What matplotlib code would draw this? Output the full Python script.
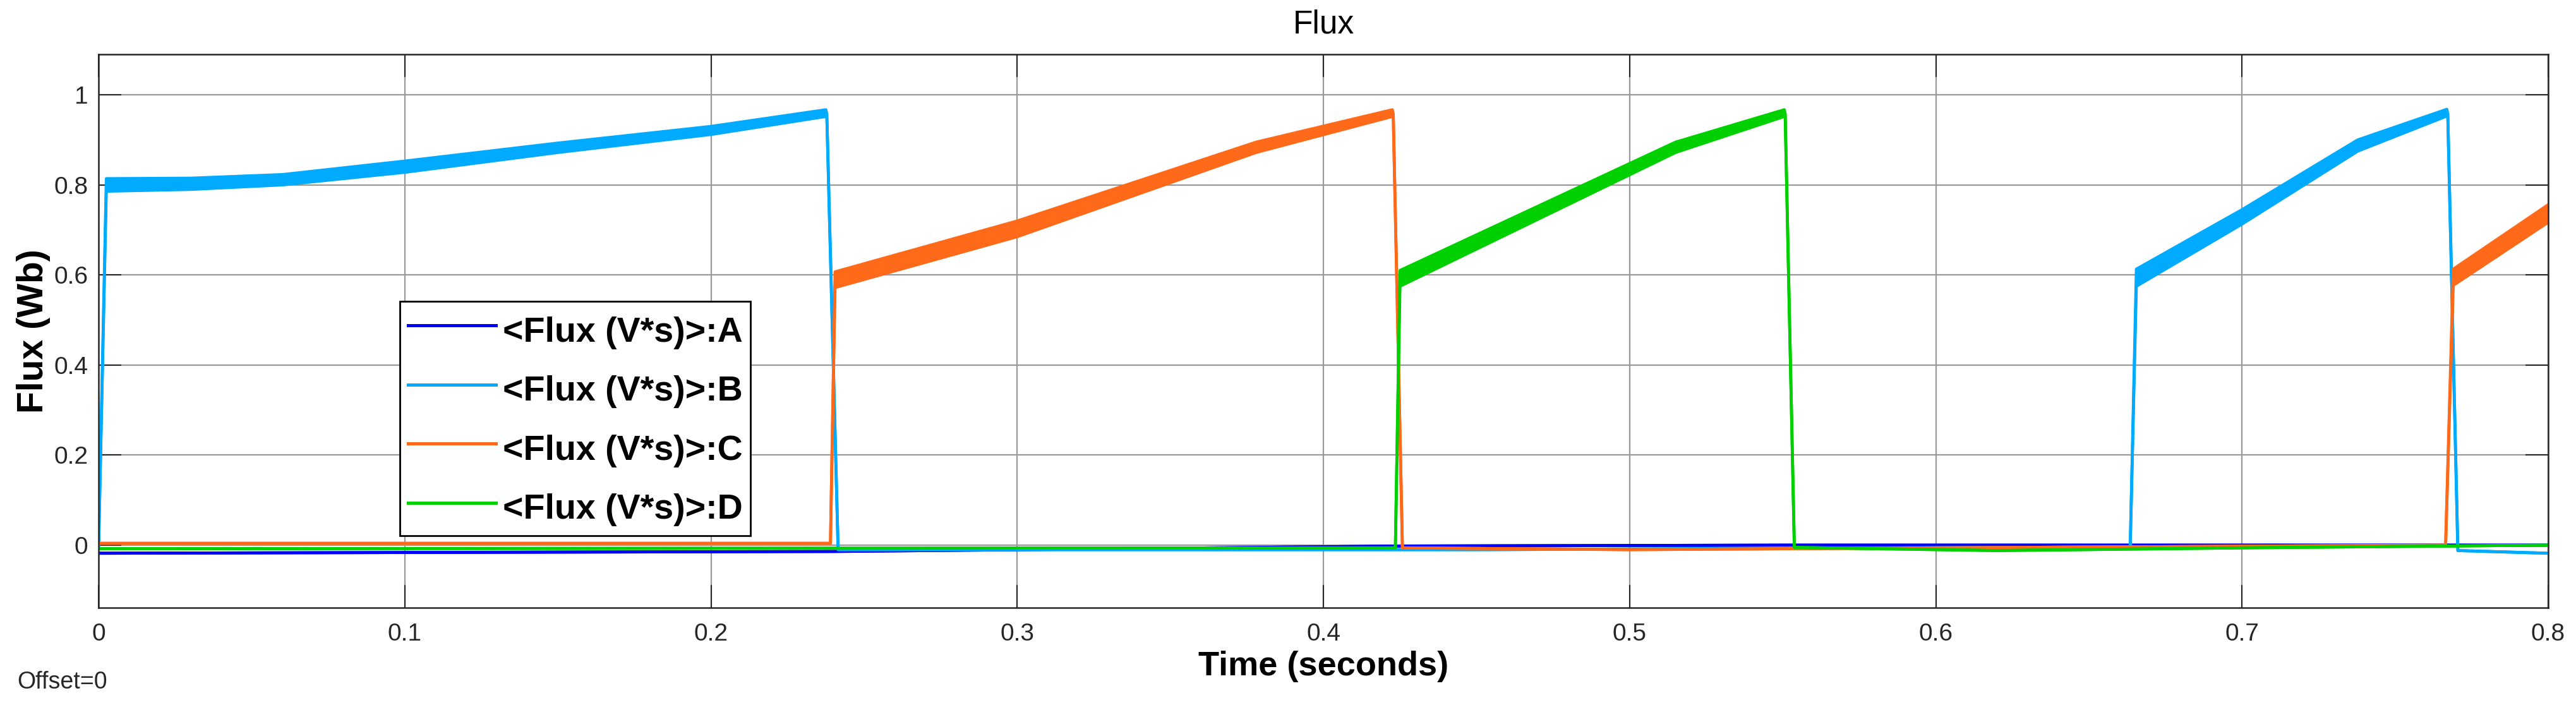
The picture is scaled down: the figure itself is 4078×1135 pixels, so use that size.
import matplotlib
matplotlib.use("Agg")
import matplotlib.pyplot as plt
import numpy as np

'''
Four-phase flux waveforms (A-D) over 0.8 s, Simulink-scope style.
Each phase is stored as break-points with a lower and upper envelope,
the gap between them is the high-frequency ripple band.
'''

plt.rcParams["font.family"] = ["Liberation Sans", "DejaVu Sans"]

# phase A stays near zero
t_a = [0.0, 0.24, 0.4255, 0.55, 0.8]
lo_a = [-0.018, -0.014, -0.002, 0.0, 0.0]
hi_a = lo_a

# phase B: conducts at start and again near 0.665 s
t_b = [0.0, 0.0025, 0.03, 0.06, 0.1, 0.15, 0.2, 0.2375, 0.2378, 0.2415, 0.45, 0.6635,
       0.6655, 0.70, 0.7378, 0.7669, 0.7672, 0.7705, 0.8]
lo_b = [0.0, 0.786, 0.790, 0.800, 0.828, 0.872, 0.912, 0.952, 0.958, -0.010, -0.010,
        -0.004, 0.575, 0.713, 0.875, 0.953, 0.958, -0.012, -0.018]
hi_b = [0.0, 0.814, 0.815, 0.823, 0.853, 0.893, 0.930, 0.967, 0.958, -0.010, -0.010,
        -0.004, 0.613, 0.745, 0.900, 0.968, 0.958, -0.012, -0.018]

# phase C
t_c = [0.0, 0.239, 0.2405, 0.30, 0.378, 0.4225, 0.4228, 0.4258, 0.50, 0.60, 0.7665,
       0.769, 0.8]
lo_c = [0.004, 0.004, 0.572, 0.685, 0.872, 0.952, 0.958, -0.006, -0.010, -0.006, 0.0,
        0.577, 0.717]
hi_c = [0.004, 0.004, 0.607, 0.720, 0.895, 0.967, 0.958, -0.006, -0.010, -0.006, 0.0,
        0.613, 0.756]

# phase D
t_d = [0.0, 0.4235, 0.425, 0.515, 0.5505, 0.5508, 0.5538, 0.62, 0.70, 0.8]
lo_d = [-0.008, -0.006, 0.575, 0.872, 0.952, 0.958, -0.005, -0.012, -0.006, 0.0]
hi_d = [-0.008, -0.006, 0.610, 0.895, 0.967, 0.958, -0.005, -0.012, -0.006, 0.0]

labels = ["<Flux (V*s)>:A", "<Flux (V*s)>:B", "<Flux (V*s)>:C", "<Flux (V*s)>:D"]
colors = ["#0000FF", "#00AAFF", "#FF6A1A", "#00D000"]

x_ticks = [0, 0.1, 0.2, 0.3, 0.4, 0.5, 0.6, 0.7, 0.8]
x_ticklabels = ["0", "0.1", "0.2", "0.3", "0.4", "0.5", "0.6", "0.7", "0.8"]
y_ticks = [0, 0.2, 0.4, 0.6, 0.8, 1.0]
y_ticklabels = ["0", "0.2", "0.4", "0.6", "0.8", "1"]


def main():
    fig = plt.figure(figsize=(40.78, 11.35), dpi=100)
    ax = fig.add_axes([0.0383, 0.1524, 0.9509, 0.7718])

    series = [(t_a, lo_a, hi_a), (t_b, lo_b, hi_b), (t_c, lo_c, hi_c), (t_d, lo_d, hi_d)]
    for (t, lo, hi), lab, col in zip(series, labels, colors):
        ax.fill_between(t, lo, hi, color=col, linewidth=0)
        ax.plot(t, lo, color=col, linewidth=3.4, label=lab)
        ax.plot(t, hi, color=col, linewidth=3.4)

    ax.set_xlim(0, 0.8)
    ax.set_ylim(-0.139, 1.09)
    ax.set_xticks(x_ticks)
    ax.set_xticklabels(x_ticklabels)
    ax.set_yticks(y_ticks)
    ax.set_yticklabels(y_ticklabels)
    ax.tick_params(direction="in", length=26, width=1.5, colors="#262626",
                   labelsize=28, top=True, right=True)
    ax.tick_params(axis="x", pad=17)
    ax.tick_params(axis="y", pad=12)
    ax.grid(color="#999999", linewidth=1.6)
    ax.set_axisbelow(True)
    for sp in ax.spines.values():
        sp.set_linewidth(1.8)
        sp.set_color("#262626")

    ax.set_xlabel("Time (seconds)", fontsize=39, fontweight="bold", labelpad=6)
    ax.set_ylabel("Flux (Wb)", fontsize=41, fontweight="bold", labelpad=4)
    ax.set_title("Flux", fontsize=37, pad=24)

    leg = ax.legend(loc="upper left", bbox_to_anchor=(0.123, 0.5537), borderaxespad=0,
                    prop={"weight": "bold", "size": 40}, frameon=True,
                    fancybox=False, framealpha=1, edgecolor="black",
                    handlelength=2.5, handletextpad=0.2, handleheight=1.44,
                    labelspacing=0.5, borderpad=0.23)
    leg.get_frame().set_linewidth(2.0)
    for line in leg.get_lines():
        line.set_linewidth(3.6)

    fig.text(27 / 4078, 1 - 1080 / 1135, "Offset=0", fontsize=27, color="#262626",
             ha="left", va="center")

    fig.savefig("out.png", dpi=100)


if __name__ == "__main__":
    main()
